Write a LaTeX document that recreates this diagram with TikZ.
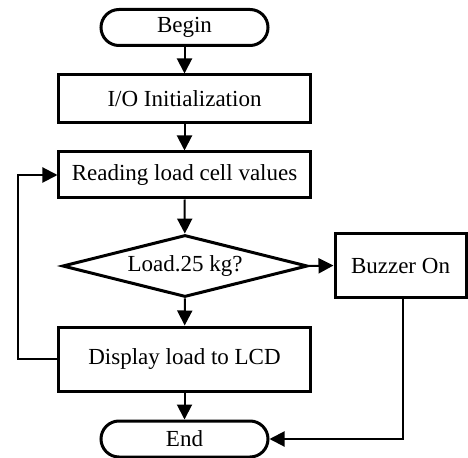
\documentclass[tikz,border=0pt]{standalone}
\usepackage{fontspec}
\setmainfont{Liberation Serif}
\usepackage{tikz}
\usetikzlibrary{shapes.geometric,arrows.meta}
\definecolor{ink}{HTML}{000000}
\newcommand{\fctext}{\fontsize{23bp}{27bp}\selectfont}
\tikzset{
  term/.style={draw=ink, line width=3bp, rounded corners=18bp, minimum width=167bp, minimum height=36bp, inner sep=0pt, font=\fctext},
  proc/.style={draw=ink, line width=3bp, minimum width=251bp, inner sep=0pt, font=\fctext},
  dec/.style={draw=ink, line width=3bp, diamond, aspect=4, minimum width=245bp, minimum height=62bp, inner sep=0pt, font=\fctext},
  flow/.style={draw=ink, line width=2bp, -{Triangle[length=15bp,width=15bp]}},
}

\begin{document}
\begin{tikzpicture}[x=1bp,y=-1bp]
  \useasboundingbox (0,0) rectangle (468,458);

  % main column
  \node[term] (begin) at (184.5,27.5) {Begin};
  \node[proc, minimum height=48bp] (init) at (184.5,99) {I/O Initialization};
  \node[proc, minimum height=46bp] (read) at (184.5,175) {Reading load cell values};
  \node[dec] (check) at (185,266) {Load.25 kg?};
  \node[proc, minimum height=64bp] (show) at (184.5,359) {Display load to LCD};
  \node[term] (end) at (184.5,439) {End};

  % side branch
  \node[proc, minimum width=131bp, minimum height=63bp] (buzz) at (400.5,265.5) {Buzzer On};
  \coordinate (loop) at (18,175);

  \draw[flow] (begin) -- (init);
  \draw[flow] (init) -- (read);
  \draw[flow] (read) -- (check);
  \draw[flow] (check) -- (show);
  \draw[flow] (show) -- (end);
  \draw[flow] (check.east) -- (buzz.west);
  \draw[flow] ([xshift=2.5bp]buzz.south) |- (end.east);
  \draw[flow] (show.west) -| (loop) -- (read.west);
\end{tikzpicture}
\end{document}
